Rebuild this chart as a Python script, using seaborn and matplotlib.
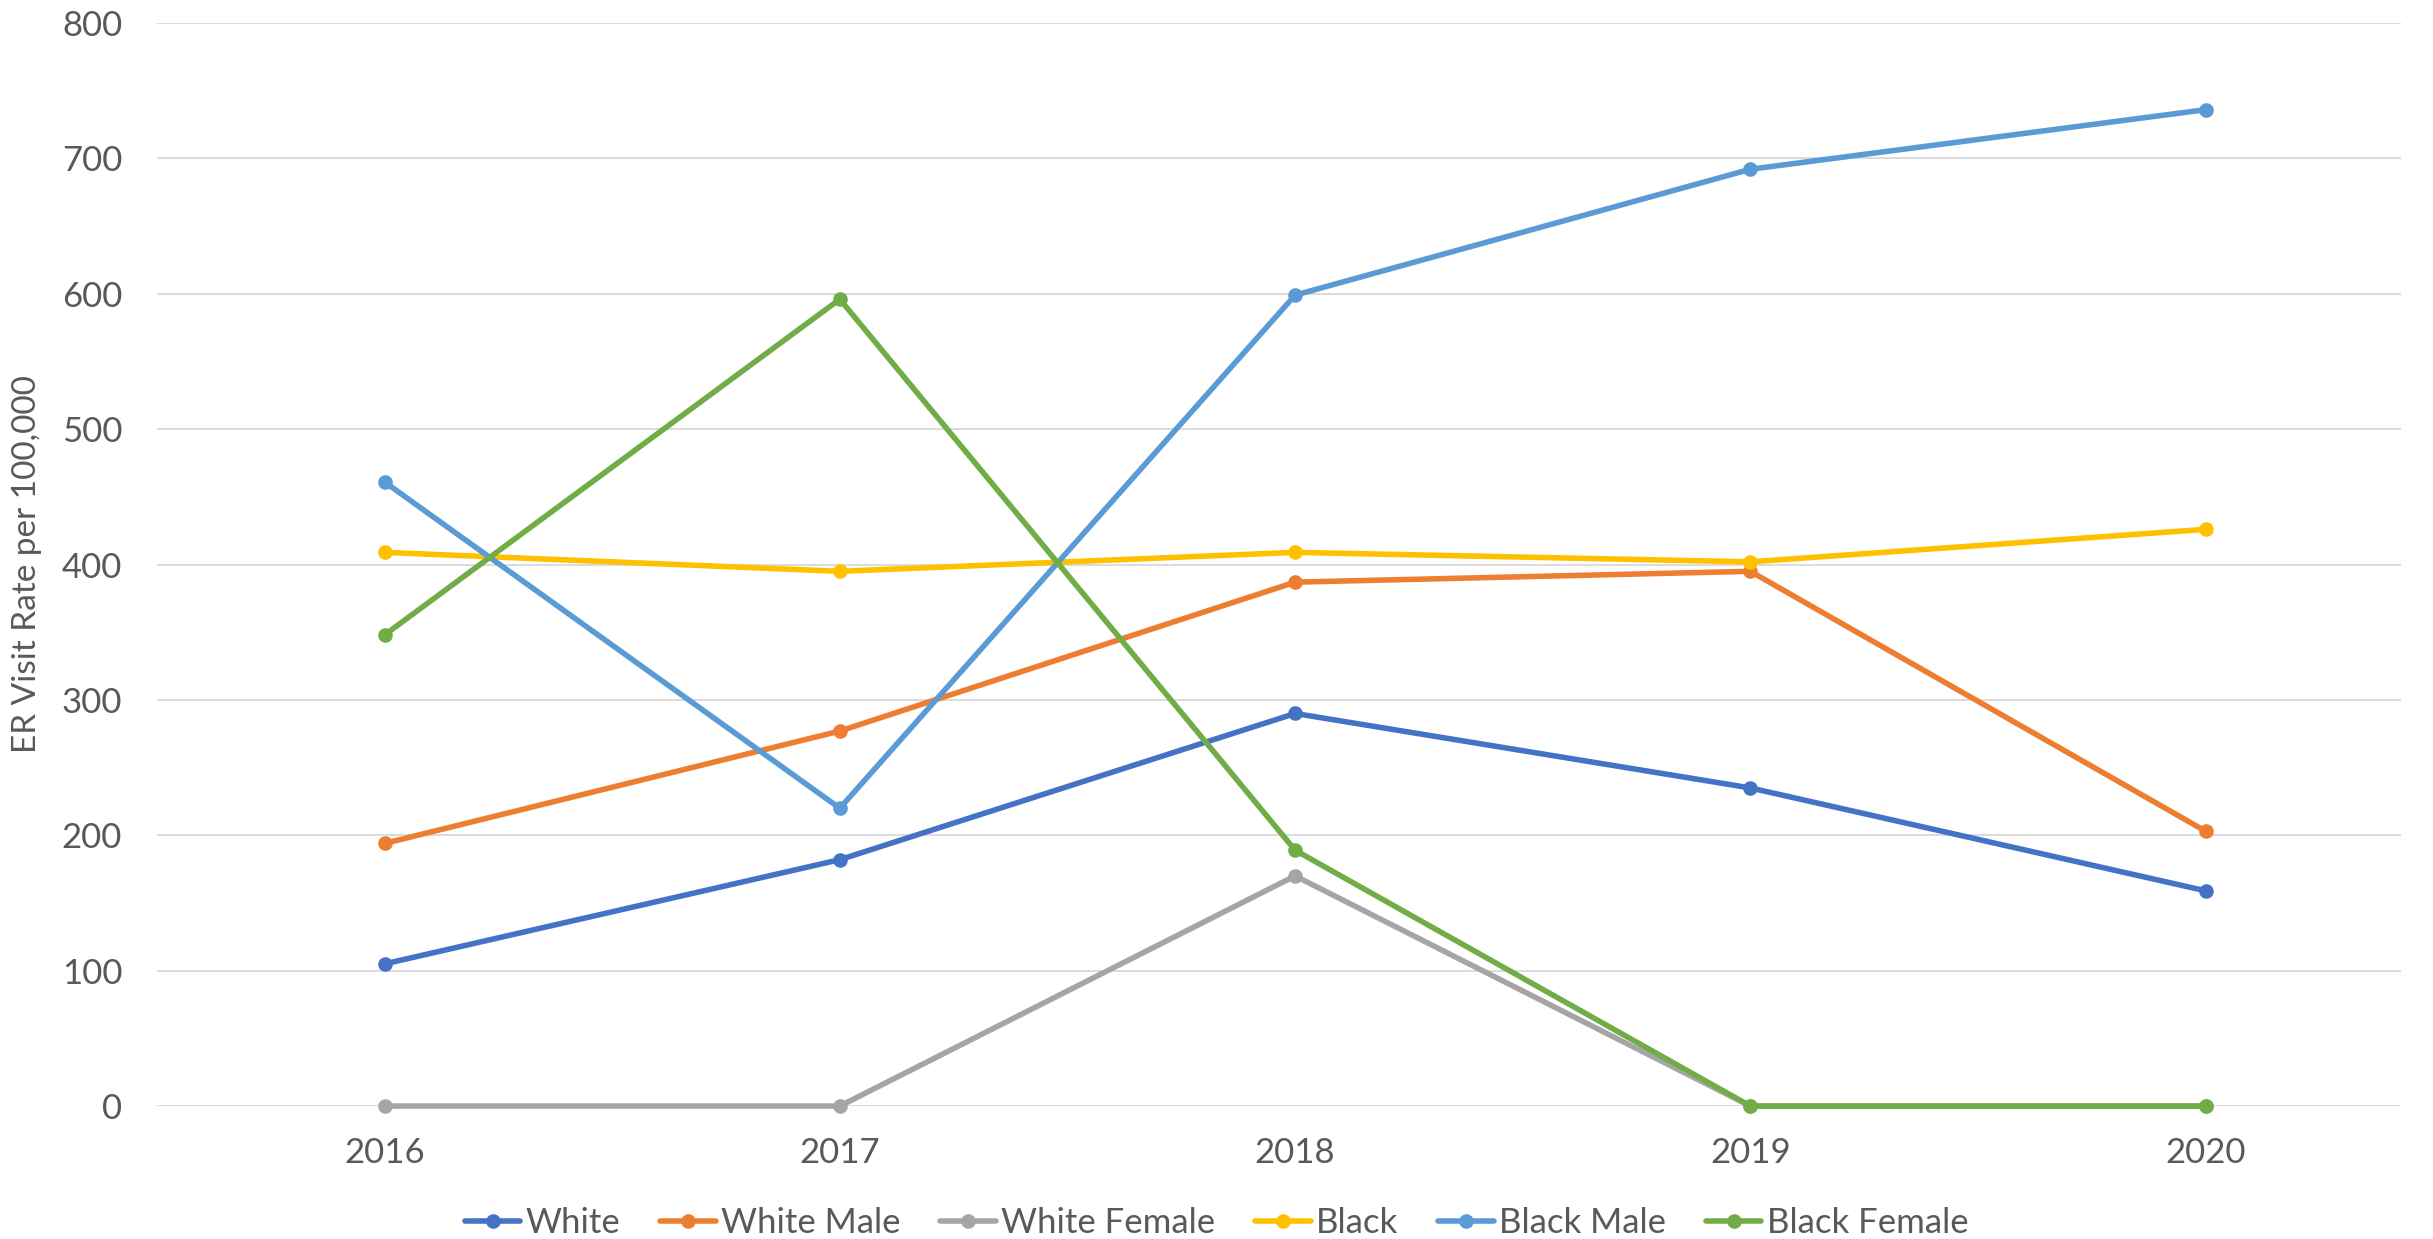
import pandas as pd
import seaborn as sns
import matplotlib.pyplot as plt

years = [2016, 2017, 2018, 2019, 2020]
groups = ["White", "White Male", "White Female", "Black", "Black Male", "Black Female"]

white = [105, 182, 290, 235, 159]
white_male = [194, 277, 387, 395, 203]
white_female = [0, 0, 170, 0, 0]
black = [409, 395, 409, 402, 426]
black_male = [461, 220, 599, 692, 736]
black_female = [348, 596, 189, 0, 0]

colors = ["#4472C4", "#ED7D31", "#A5A5A5", "#FFC000", "#5B9BD5", "#70AD47"]

series = [white, white_male, white_female, black, black_male, black_female]
rows = []
for name, vals in zip(groups, series):
    for yr, v in zip(years, vals):
        rows.append({"Year": yr, "Rate": v, "Group": name})
df = pd.DataFrame(rows)

sns.set_style("white")
plt.rcParams['font.family'] = ['Lato', 'DejaVu Sans']

fig = plt.figure(figsize=(24.33, 12.39), dpi=100)
ax = fig.add_axes([0.0645, 0.1073, 0.9225, 0.8741])

sns.lineplot(data=df, x="Year", y="Rate", hue="Group", hue_order=groups,
             palette=colors, marker="o", markersize=10.5, markeredgewidth=0,
             linewidth=4.0, ax=ax)
# lines sitting on 0 shouldn't get cut in half
for ln in ax.lines:
    ln.set_clip_on(False)

ax.set_xlim(2015.5, 2020.43)
ax.set_ylim(0, 800)
ax.set_xticks(years)
ax.set_xticklabels([str(y) for y in years])
ax.set_yticks(range(0, 801, 100))
ax.yaxis.grid(True, color="#d9d9d9", linewidth=1.3)
ax.xaxis.grid(False)
ax.set_axisbelow(True)
for s in ax.spines.values():
    s.set_visible(False)

ax.tick_params(axis="both", length=0, labelsize=25, colors="#595959")
ax.tick_params(axis="y", pad=25)
ax.tick_params(axis="x", pad=22)

ax.set_xlabel("")
ax.set_ylabel("ER Visit Rate per 100,000", fontsize=24, color="#595959")
ax.yaxis.set_label_coords(-0.051, 0.5)

handles, labels = ax.get_legend_handles_labels()
ax.legend(handles, labels, loc="center", bbox_to_anchor=(0.5, 1 - 1223 / 1239),
          bbox_transform=fig.transFigure, ncol=6, frameon=False,
          fontsize=25, handlelength=1.6, handletextpad=0.15, columnspacing=1.15,
          labelcolor="#595959", borderaxespad=0, borderpad=0)

fig.savefig("out.png", dpi=100)
